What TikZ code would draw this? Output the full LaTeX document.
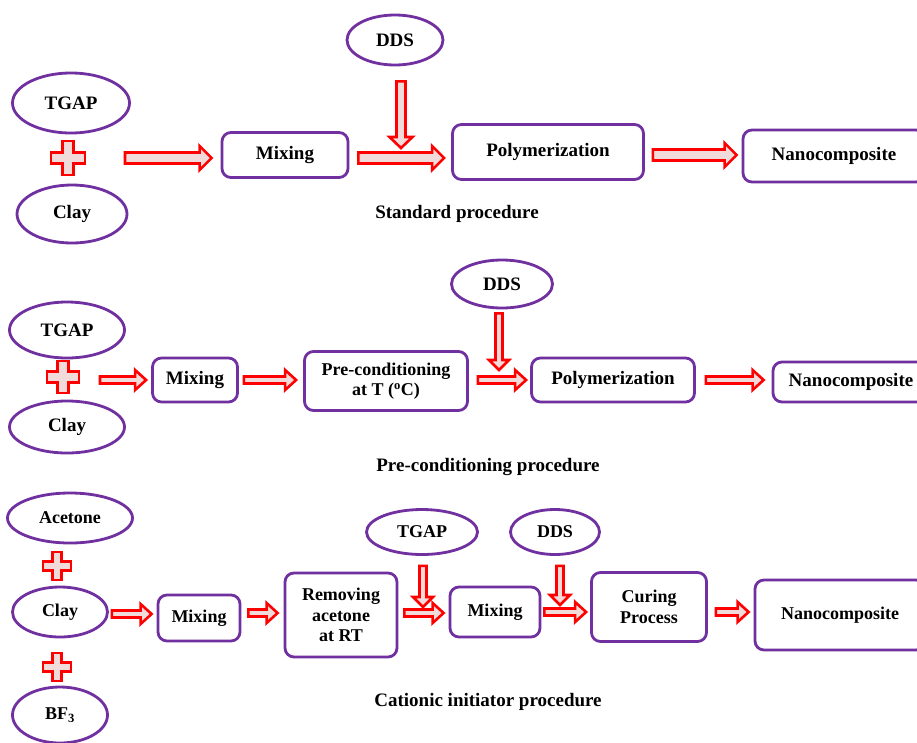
\documentclass[tikz,border=0pt]{standalone}
\usepackage{fontspec}
\setmainfont{Liberation Serif}
\usetikzlibrary{shapes.geometric, calc}
\definecolor{boxpurple}{RGB}{112,48,160}
\definecolor{arrowpink}{RGB}{240,218,218}
\definecolor{arrowred}{RGB}{255,0,0}
\begin{document}
\begin{tikzpicture}[x=1pt, y=-1pt,
  font=\bfseries\fontsize{19}{22}\selectfont,
  chem/.style={ellipse, draw=boxpurple, line width=2.8pt, fill=white, inner sep=0pt},
  stage/.style={rectangle, rounded corners=9pt, draw=boxpurple, line width=2.8pt, fill=white, align=center, inner sep=0pt},
  small/.style={font=\bfseries\fontsize{18}{20.5}\selectfont},
  hblock/.style n args={3}{draw=arrowred, fill=arrowpink, line width=2.6pt, miter limit=20,
    to path={let \p1=(\tikztostart), \p2=(\tikztotarget) in
      (\x1,\y1+#1) -- (\x2-#3,\y1+#1) -- (\x2-#3,\y1+#2) -- (\x2,\y1)
      -- (\x2-#3,\y1-#2) -- (\x2-#3,\y1-#1) -- (\x1,\y1-#1) -- cycle}},
  vblock/.style n args={3}{draw=arrowred, fill=arrowpink, line width=2.6pt, miter limit=20,
    to path={let \p1=(\tikztostart), \p2=(\tikztotarget) in
      (\x1-#1,\y1) -- (\x1-#1,\y2+#3) -- (\x1-#2,\y2+#3) -- (\x1,\y2)
      -- (\x1+#2,\y2+#3) -- (\x1+#1,\y2+#3) -- (\x1+#1,\y1) -- cycle}},
  bigarrow/.style={hblock={5.5pt}{12pt}{12pt}},
  bigdrop/.style={vblock={4.5pt}{11.5pt}{11pt}},
  smallarrow/.style={hblock={3.5pt}{10pt}{11pt}},
  smalldrop/.style={vblock={3.5pt}{10pt}{10pt}},
  pics/plussign/.style={code={
    \draw[draw=arrowred, fill=arrowpink, line width=2.6pt]
      ({-#1},{-0.33*#1}) -- ({-0.33*#1},{-0.33*#1}) -- ({-0.33*#1},{-#1}) -- ({0.33*#1},{-#1})
      -- ({0.33*#1},{-0.33*#1}) -- ({#1},{-0.33*#1}) -- ({#1},{0.33*#1}) -- ({0.33*#1},{0.33*#1})
      -- ({0.33*#1},{#1}) -- ({-0.33*#1},{#1}) -- ({-0.33*#1},{0.33*#1}) -- ({-#1},{0.33*#1}) -- cycle;}}
]
\useasboundingbox (0,0) rectangle (917,742);
\clip (0,0) rectangle (917,742);

% standard procedure
\node[chem, minimum width=96, minimum height=50] (dds1) at (395,40) {DDS};
\node[chem, minimum width=117, minimum height=60] (tgap1) at (71,103) {TGAP};
\coordinate (plus1) at (68,158);
\pic at (plus1) {plussign=17};
\node[chem, minimum width=110, minimum height=58] (clay1) at (72,214) {Clay};
\node[stage, minimum width=126, minimum height=45] (mix1) at (285,155) {Mixing};
\node[stage, minimum width=191, minimum height=55] (poly1) at (548,152) {Polymerization};
\node[stage, minimum width=182, minimum height=52] (nano1) at (834,156) {Nanocomposite};
\node (std) at (457,214) {Standard procedure};
\coordinate (drop1) at (401,148);
\draw[bigarrow] ($(plus1)+(57,0)$) to ($(mix1.west)+(-9,0)$);
\draw[bigarrow] ($(mix1.east)+(9,3)$) to ($(poly1.west)+(-7,0)$);
\draw[bigarrow] ($(poly1.east)+(8,3)$) to ($(nano1.west)+(-5,0)$);
\draw[bigdrop] ($(dds1.south)+(6,15)$) to (drop1);

% pre-conditioning procedure
\node[chem, minimum width=101, minimum height=48] (dds2) at (502,284) {DDS};
\node[chem, minimum width=115, minimum height=56] (tgap2) at (67,330) {TGAP};
\coordinate (plus2) at (63,377);
\pic at (plus2) {plussign=16};
\node[chem, minimum width=115, minimum height=52] (clay2) at (67,427) {Clay};
\node[stage, minimum width=85, minimum height=44] (mix2) at (195,380) {Mixing};
\node[stage, minimum width=163, minimum height=59, small] (pre2) at (386,381) {Pre-conditioning\\at T (\textsuperscript{o}C)};
\node[stage, minimum width=163, minimum height=44] (poly2) at (613,380) {Polymerization};
\node[stage, minimum width=156, minimum height=40] (nano2) at (851,382) {Nanocomposite};
\node (pre) at (488,467) {Pre-conditioning procedure};
\coordinate (drop2) at (499,370);
\draw[smallarrow] ($(plus2)+(37,3)$) to ($(mix2.west)+(-5,0)$);
\draw[smallarrow] ($(mix2.east)+(5,0)$) to ($(pre2.west)+(-7,0)$);
\draw[smallarrow] ($(pre2.east)+(9,-1)$) to ($(poly2.west)+(-4,0)$);
\draw[smallarrow] ($(poly2.east)+(10,0)$) to ($(nano2.west)+(-8,0)$);
\draw[smalldrop] ($(dds2.south)+(-3,4)$) to (drop2);

% cationic initiator procedure
\node[chem, minimum width=125, minimum height=50, small] (acet) at (70,518) {Acetone};
\coordinate (plus3a) at (57,566);
\pic at (plus3a) {plussign=14};
\node[chem, minimum width=95, minimum height=50, small] (clay3) at (60,612) {Clay};
\coordinate (plus3b) at (57,667);
\pic at (plus3b) {plussign=14};
\node[chem, minimum width=95, minimum height=56, small] (bf3) at (60,715) {BF\textsubscript{3}};
\node[stage, minimum width=82, minimum height=46, small] (mix3a) at (199,618) {Mixing};
\node[stage, minimum width=112, minimum height=84, small] (rem) at (341,615) {Removing\\acetone\\at RT};
\node[chem, minimum width=111, minimum height=45, small] (tgap3) at (422,532) {TGAP};
\node[stage, minimum width=90, minimum height=50, small] (mix3b) at (495,612) {Mixing};
\node[chem, minimum width=89, minimum height=45, small] (dds3) at (555,532) {DDS};
\node[stage, minimum width=115, minimum height=69, small] (cure) at (649,607) {Curing\\Process};
\node[stage, minimum width=170, minimum height=70, small] (nano3) at (840,615) {Nanocomposite};
\node (cat) at (488,702) {Cationic initiator procedure};
\coordinate (drop3) at (423,607);
\coordinate (drop4) at (560,605);
\draw[smallarrow] ($(clay3.east)+(3,2)$) to ($(mix3a.west)+(-5,0)$);
\draw[smallarrow] ($(mix3a.east)+(7,-5)$) to ($(rem.west)+(-6,0)$);
\draw[smallarrow] ($(rem.east)+(6,-2)$) to ($(mix3b.west)+(-5,0)$);
\draw[smallarrow] ($(mix3b.east)+(3,0)$) to ($(cure.west)+(-4,0)$);
\draw[smallarrow] ($(cure.east)+(8,5)$) to ($(nano3.west)+(-5,0)$);
\draw[smalldrop] ($(tgap3.south)+(1,10)$) to (drop3);
\draw[smalldrop] ($(dds3.south)+(5,10)$) to (drop4);
\end{tikzpicture}
\end{document}
